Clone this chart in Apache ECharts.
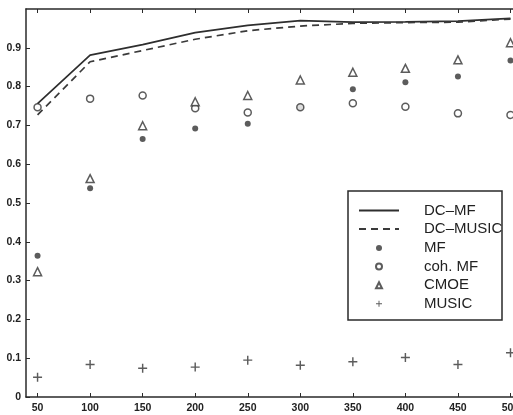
<!DOCTYPE html>
<html>
<head>
<meta charset="utf-8">
<script src="https://cdn.jsdelivr.net/npm/echarts@6/dist/echarts.min.js"></script>
<style>html,body{margin:0;padding:0;background:#fff}#c{width:513px;height:415px}</style>
</head>
<body>
<div id="c"></div>
<script>
var xValues = [50, 100, 150, 200, 250, 300, 350, 400, 450, 500];
var dcMF    = [0.756, 0.881, 0.908, 0.939, 0.958, 0.970, 0.966, 0.967, 0.969, 0.976];
var dcMUSIC = [0.727, 0.864, 0.893, 0.922, 0.944, 0.956, 0.963, 0.965, 0.966, 0.974];
var mf      = [0.364, 0.538, 0.665, 0.692, 0.704, 0.747, 0.793, 0.811, 0.826, 0.867];
var cohMF   = [0.747, 0.769, 0.777, 0.744, 0.733, 0.747, 0.757, 0.748, 0.731, 0.727];
var cmoe    = [0.323, 0.563, 0.699, 0.761, 0.777, 0.817, 0.837, 0.847, 0.869, 0.913];
var music   = [0.051, 0.084, 0.074, 0.077, 0.095, 0.082, 0.091, 0.102, 0.084, 0.114];
var yTicks  = [0, 0.1, 0.2, 0.3, 0.4, 0.5, 0.6, 0.7, 0.8, 0.9];

function pairs(arr){ return xValues.map(function(x,i){ return [x, arr[i]]; }); }
var ink = '#2a2a2a';
var font = 'Liberation Sans, Arial, sans-serif';
var plusPath = 'path://M4.2,0H5.8V4.2H10V5.8H5.8V10H4.2V5.8H0V4.2H4.2Z';

var chart = echarts.init(document.getElementById('c'), null, {renderer:'canvas'});
var axisLineStyle = {color: ink, width: 1.5};
chart.setOption({
  animation: false,
  backgroundColor: '#fff',
  grid: {left: 26, top: 9, bottom: 18, width: 495, containLabel: false, outerBoundsMode: 'none'},
  xAxis: [{
    type: 'value', min: 39, max: 510, position: 'bottom',
    axisLine: {show: true, onZero: false, lineStyle: axisLineStyle},
    axisTick: {show: true, inside: true, length: 4, lineStyle: {color: ink}, customValues: xValues},
    axisLabel: {customValues: xValues, color: '#222', fontSize: 10.5, fontWeight: 'bold', fontFamily: font, margin: 6},
    splitLine: {show: false}
  }, {
    type: 'value', min: 39, max: 510, position: 'top',
    axisLine: {show: true, onZero: false, lineStyle: axisLineStyle},
    axisTick: {show: true, inside: true, length: 4, lineStyle: {color: ink}, customValues: xValues},
    axisLabel: {show: false},
    splitLine: {show: false}
  }],
  yAxis: [{
    type: 'value', min: 0, max: 1, interval: 0.1,
    axisLine: {show: true, onZero: false, lineStyle: axisLineStyle},
    axisTick: {show: true, inside: true, length: 4, lineStyle: {color: ink}, customValues: yTicks},
    axisLabel: {customValues: yTicks, color: '#222', fontSize: 10.5, fontWeight: 'bold', fontFamily: font, margin: 5,
      formatter: function(v){ return String(+(+v).toFixed(1)); }},
    splitLine: {show: false}
  }],
  graphic: [{
    type: 'rect', z: 3, shape: {x: 348, y: 191, width: 154, height: 129},
    style: {fill: '#fff', stroke: ink, lineWidth: 1.5}
  }],
  legend: [{
    data: ['DC–MF', 'DC–MUSIC'],
    orient: 'vertical', left: 358, top: 203, padding: 0, itemWidth: 40, itemHeight: 14, itemGap: 3.5,
    itemStyle: {opacity: 0},
    textStyle: {fontSize: 15, lineHeight: 14, color: '#222', fontFamily: font, padding: [0,0,0,20]},
    z: 5
  }, {
    data: ['MF', 'coh. MF', 'CMOE', 'MUSIC'],
    orient: 'vertical', left: 375, top: 240.5, padding: 0, itemWidth: 6, itemHeight: 6, itemGap: 3.6,
    textStyle: {fontSize: 15, lineHeight: 14, color: '#222', fontFamily: font, padding: [0,0,0,37]},
    z: 5
  }],
  series: [{
    name: 'DC–MF', type: 'line', data: pairs(dcMF), symbol: 'none',
    lineStyle: {color: '#2e2e2e', width: 1.7, type: 'solid'}, itemStyle: {color: '#2e2e2e'}
  }, {
    name: 'DC–MUSIC', type: 'line', data: pairs(dcMUSIC), symbol: 'none',
    lineStyle: {color: '#3a3a3a', width: 1.7, type: [7, 5]}, itemStyle: {color: '#3a3a3a'}
  }, {
    name: 'MF', type: 'scatter', data: pairs(mf), symbol: 'circle', symbolSize: 6,
    itemStyle: {color: '#333'}
  }, {
    name: 'coh. MF', type: 'scatter', data: pairs(cohMF), symbol: 'circle', symbolSize: 7,
    itemStyle: {color: '#fff', borderColor: '#333', borderWidth: 1.5}
  }, {
    name: 'CMOE', type: 'scatter', data: pairs(cmoe), symbol: 'triangle', symbolSize: 8,
    itemStyle: {color: '#fff', borderColor: '#333', borderWidth: 1.5}
  }, {
    name: 'MUSIC', type: 'scatter', data: pairs(music), symbol: plusPath, symbolSize: 9,
    itemStyle: {color: '#333'}
  }]
});
</script>
</body>
</html>
